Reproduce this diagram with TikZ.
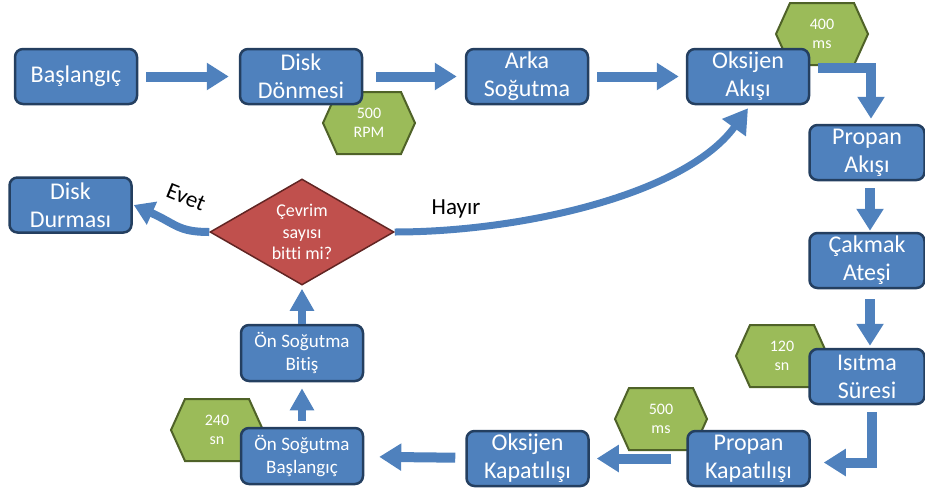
\documentclass[tikz,border=0pt]{standalone}
\usepackage{fontspec}
\setmainfont{Carlito}[Ligatures=NoCommon]
\usetikzlibrary{arrows.meta,calc,shapes.geometric}

\definecolor{boxblue}{HTML}{4F81BD}
\definecolor{boxedge}{HTML}{243F60}
\definecolor{hexgreen}{HTML}{9BBB59}
\definecolor{hexedge}{HTML}{4F6228}
\definecolor{decred}{HTML}{C0504D}
\definecolor{decedge}{HTML}{622523}

\tikzset{
  stepbox/.style={draw=boxedge, line width=2.5pt, fill=boxblue, rounded corners=8pt,
    minimum width=122pt, minimum height=55pt, inner sep=0pt, text=white, align=center,
    font=\fontsize{24}{28}\selectfont},
  sidebox/.style={stepbox, minimum width=115pt},
  smallbox/.style={stepbox, minimum width=122pt, minimum height=56pt,
    font=\fontsize{19}{23}\selectfont},
  decision/.style={diamond, draw=decedge, line width=1.5pt, fill=decred, minimum width=184pt,
    minimum height=106pt, shape aspect=1.74, inner sep=0pt, text=white, align=center,
    font=\fontsize{18}{21.7}\selectfont},
  hexshape/.style={draw=hexedge, line width=2pt, fill=hexgreen, line join=miter},
  hextext/.style={text=white, align=center, inner sep=0pt, font=\fontsize{16}{19}\selectfont},
  blockarrow/.style={draw=boxblue, line width=10pt, line join=miter,
    -{Triangle[width=26pt,length=22pt]}},
  upblock/.style={blockarrow, line width=8pt, -{Triangle[width=23pt,length=22pt]}},
  bentarrow/.style={draw=boxblue, line width=7pt, -{Triangle[width=28pt,length=24pt]}},
  answer/.style={text=black, inner sep=0pt, font=\fontsize{23}{27}\selectfont}
}

% green hexagonal tag: name, centre x, centre y, text
\newcommand\hexlabel[4]{%
  \filldraw[hexshape] (#2-46,#3) -- (#2-32,#3-31) -- (#2+32,#3-31) -- (#2+46,#3)
    -- (#2+32,#3+31) -- (#2-32,#3+31) -- cycle;
  \node[hextext] (#1) at (#2,#3) {#4};}

\begin{document}
\begin{tikzpicture}[x=1pt,y=-1pt]
\useasboundingbox (0,0) rectangle (925,493);

% timing tags, behind the process boxes
\hexlabel{tagrpm}{369}{123}{500\\RPM}
\hexlabel{tagoks}{822}{34}{400\\ms}
\hexlabel{tagisi}{782}{356}{120\\sn}
\hexlabel{tagpro}{661}{419}{500\\ms}
\hexlabel{tagpre}{217}{430}{240\\sn}

% process boxes
\node[stepbox] (bas)  at (76,76.5)    {Başlangıç};
\node[stepbox] (disk) at (301,76.5)   {Disk\\Dönmesi};
\node[stepbox] (arka) at (527,76.5)   {Arka\\Soğutma};
\node[stepbox] (oks)  at (748,76.5)   {Oksijen\\Akışı};
\node[sidebox] (prop) at (867,152.5)  {Propan\\Akışı};
\node[sidebox] (cak)  at (867,260.5)  {Çakmak\\Ateşi};
\node[sidebox] (isi)  at (867,376.5)  {Isıtma\\Süresi};
\node[stepbox] (pkap) at (748.5,458.5) {Propan\\Kapatılışı};
\node[stepbox] (okap) at (527.5,458.5) {Oksijen\\Kapatılışı};
\node[smallbox] (onb) at (302,456)    {Ön Soğutma\\Başlangıç};
\node[smallbox] (onbit) at (302,353)  {Ön Soğutma\\Bitiş};
\node[decision] (dec) at (302,232)    {Çevrim\\sayısı\\bitti mi?};
\node[stepbox] (ddur) at (70.5,205)   {Disk\\Durması};

% flow
\draw[blockarrow, shorten <=8pt, shorten >=10pt] (bas) -- (disk);
\draw[blockarrow, shorten <=13pt, shorten >=8pt] (disk) -- (arka);
\draw[blockarrow, shorten <=8pt, shorten >=7pt] (arka) -- (oks);
\draw[blockarrow] ($(oks.north east)+(8,20.5)$) -| ($(prop.north)+(4,-5)$);
\draw[blockarrow, shorten <=7pt, shorten >=1pt] ($(prop.south)+(3,0)$) -- ($(cak.north)+(3,0)$);
\draw[blockarrow, shorten <=10pt, shorten >=2pt] ($(cak.south)+(3,0)$) -- ($(isi.north)+(3,0)$);
\draw[blockarrow] ($(isi.south)+(5,7)$) |- ($(pkap.east)+(13,4)$);
\draw[blockarrow, shorten <=15pt, shorten >=7pt] (pkap) -- (okap);
\draw[blockarrow, shorten <=10pt, shorten >=15pt] (okap) -- (onb);
\draw[upblock, shorten <=6pt, shorten >=6pt] (onb) -- (onbit);
\draw[upblock, shorten >=3pt] (onbit) -- (dec);

% decision outcomes
\draw[bentarrow, line width=8pt, -{Triangle[width=24pt,length=20pt]}]
  (dec.west) .. controls (178,232) and (176,224) .. ($(ddur.east)+(1,0)$);
\draw[bentarrow] (dec.east) .. controls (520,232) and (685,195) .. ($(oks.south)+(0,3)$);
\node[answer, rotate=-22] (evet) at (186,197) {Evet};
\node[answer] (hayir) at (456,209) {Hayır};
\end{tikzpicture}
\end{document}
